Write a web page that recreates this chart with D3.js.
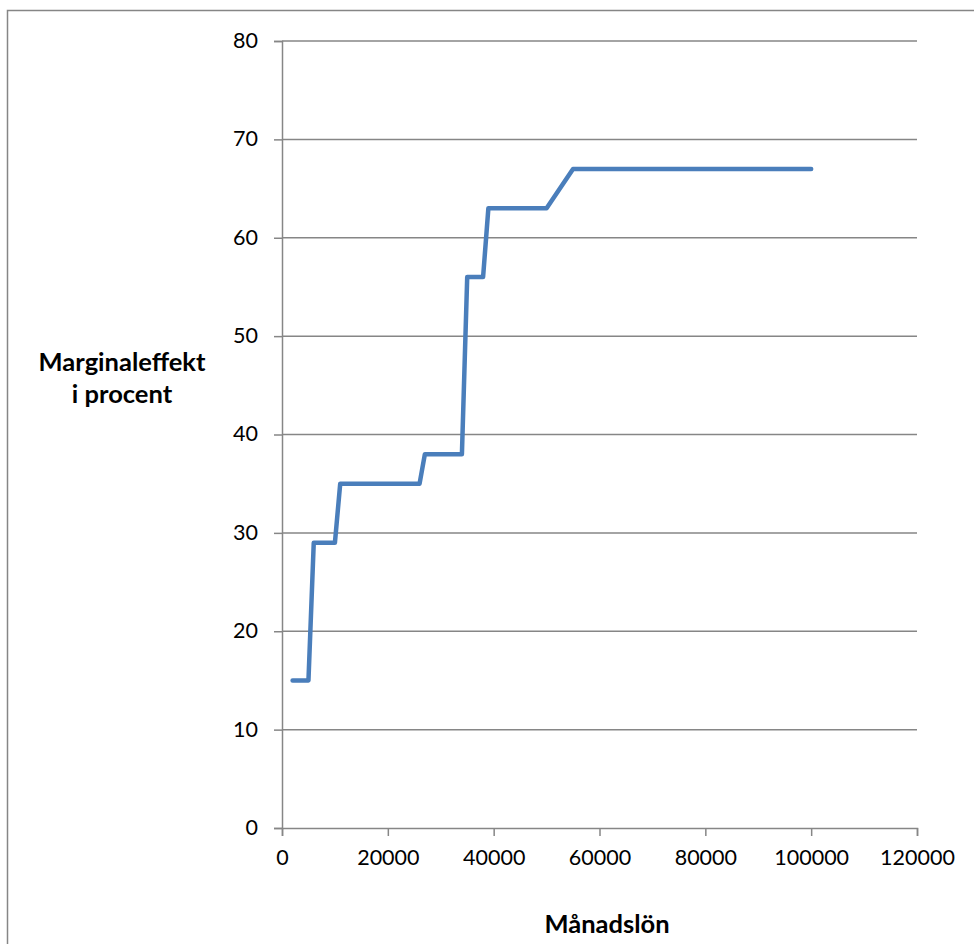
<!DOCTYPE html>
<html>
<head>
<meta charset="utf-8">
<script src="https://cdn.jsdelivr.net/npm/d3@7"></script>
<style>
  html, body { margin: 0; padding: 0; background: #fff; }
  svg { display: block; }
  text { font-family: Lato, "Open Sans", sans-serif; fill: #000; }
</style>
</head>
<body>
<svg id="chart" width="974" height="944"></svg>
<script>
// Data
const salary = [2000, 5000, 6000, 10000, 11000, 26000, 27000, 34000, 35000, 38000, 39000, 50000, 55000, 100000];
const marginalEffect = [15, 15, 29, 29, 35, 35, 38, 38, 56, 56, 63, 63, 67, 67];
const xTicks = [0, 20000, 40000, 60000, 80000, 100000, 120000];
const yTicks = [0, 10, 20, 30, 40, 50, 60, 70, 80];
const xTitle = "Månadslön";
const yTitleLines = ["Marginaleffekt", "i procent"];

const svg = d3.select("#chart");
const W = 974, H = 944;
const margin = { left: 282, right: 57, top: 41, bottom: 116 };

// outer chart frame
svg.append("rect")
  .attr("x", 7.5).attr("y", 10.5)
  .attr("width", W + 20).attr("height", H + 20)
  .attr("fill", "#fff").attr("stroke", "#868686").attr("stroke-width", 1.5);

const x = d3.scaleLinear().domain([0, 120000]).range([margin.left, W - margin.right]);
const y = d3.scaleLinear().domain([0, 80]).range([H - margin.bottom, margin.top]);

// gridlines
svg.append("g")
  .selectAll("line").data(yTicks.filter(d => d > 0)).join("line")
  .attr("x1", x(0)).attr("x2", x(120000))
  .attr("y1", d => y(d)).attr("y2", d => y(d))
  .attr("stroke", "#868686").attr("stroke-width", 1.5);

// y axis
const yAxis = svg.append("g")
  .attr("transform", `translate(${x(0)},0)`)
  .call(d3.axisLeft(y).tickValues(yTicks).tickSize(8).tickPadding(16).tickFormat(d3.format("d")));
yAxis.select(".domain").attr("stroke", "#868686").attr("stroke-width", 1.5);
yAxis.selectAll(".tick line").attr("stroke", "#868686").attr("stroke-width", 1.5);
yAxis.selectAll(".tick text").attr("font-size", 21.5).attr("font-family", "Lato, sans-serif").attr("fill", "#000").attr("dy", "0.3em");

// x axis
const xAxis = svg.append("g")
  .attr("transform", `translate(0,${y(0)})`)
  .call(d3.axisBottom(x).tickValues(xTicks).tickSize(8).tickPadding(14).tickFormat(d3.format("d")));
xAxis.select(".domain").attr("stroke", "#868686").attr("stroke-width", 1.5);
xAxis.selectAll(".tick line").attr("stroke", "#868686").attr("stroke-width", 1.5);
xAxis.selectAll(".tick text").attr("font-size", 21.5).attr("font-family", "Lato, sans-serif").attr("fill", "#000");

// line
const pts = salary.map((s, i) => [s, marginalEffect[i]]);
svg.append("path")
  .datum(pts)
  .attr("fill", "none")
  .attr("stroke", "#4a7ebb")
  .attr("stroke-width", 4.5)
  .attr("stroke-linejoin", "round")
  .attr("stroke-linecap", "round")
  .attr("d", d3.line().x(d => x(d[0])).y(d => y(d[1])));

// axis titles
svg.append("text")
  .attr("x", 607).attr("y", 933)
  .attr("text-anchor", "middle")
  .attr("font-size", 25.5).attr("font-weight", "bold")
  .text(xTitle);

const yt = svg.append("text")
  .attr("text-anchor", "middle")
  .attr("font-size", 25.5).attr("font-weight", "bold");
yTitleLines.forEach((t, i) => {
  yt.append("tspan").attr("x", 122).attr("y", 371 + i * 32).text(t);
});
</script>
</body>
</html>
